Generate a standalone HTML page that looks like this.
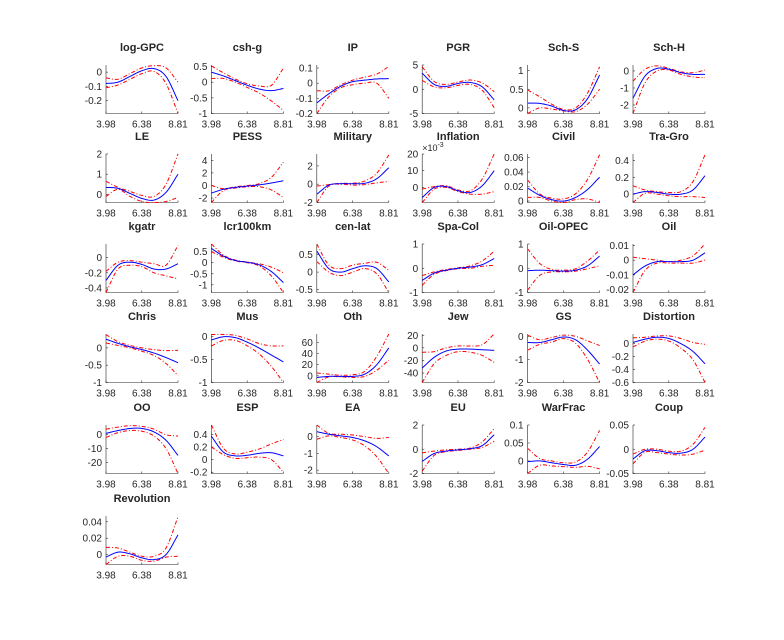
<!DOCTYPE html>
<html><head><meta charset="utf-8"><style>
html,body{margin:0;padding:0;background:#fff}
svg text{font-family:"Liberation Sans",Arial,sans-serif;fill:#262626}
</style></head><body>
<svg id="s" xmlns="http://www.w3.org/2000/svg" width="784" height="635" viewBox="0 0 784 635"></svg>
<script>
var P=[
["log-GPC",[-0.29,0.05],[0,-0.1,-0.2],[-0.08,-0.07,-0.03,0.01,0.025,-0.03,-0.2],[-0.04,-0.05,-0.01,0.03,0.045,0.03,-0.07],[-0.11,-0.09,-0.05,-0.01,0.005,-0.08,-0.29]],
["csh-g",[-1,0.55],[0.5,0,-0.5,-1],[0.32,0.2,0.05,-0.1,-0.22,-0.27,-0.2],[0.52,0.3,0.1,-0.05,-0.12,-0.1,0.45],[0.12,0.12,0.0,-0.17,-0.35,-0.6,-0.9]],
["IP",[-0.2,0.12],[0.1,0,-0.1,-0.2],[-0.13,-0.07,-0.02,0.01,0.02,0.028,0.03],[-0.05,-0.05,-0.01,0.02,0.04,0.06,0.11],[-0.2,-0.09,-0.03,-0.01,0.0,0.0,-0.1]],
["PGR",[-5,5],[5,0,-5],[3.3,1.0,0.6,1.2,1.4,0.5,-2.2],[4.6,1.6,1.0,1.5,1.9,1.3,-0.5],[1.8,0.5,0.3,0.8,1.0,-0.2,-3.8]],
["Sch-S",[-0.15,1.15],[1,0.5,0],[0.13,0.12,0.05,-0.07,-0.05,0.25,0.88],[0.48,0.3,0.1,-0.04,0.0,0.4,1.1],[-0.15,0.0,-0.03,-0.08,-0.1,0.1,0.5]],
["Sch-H",[-2.5,0.35],[0,-1,-2],[-1.6,-0.3,0.15,0.1,-0.1,-0.2,-0.2],[-0.6,0.1,0.3,0.15,-0.05,-0.1,0.05],[-2.5,-0.7,0.0,0.05,-0.2,-0.35,-0.4]],
["LE",[-0.4,2],[2,1,0],[0.35,0.3,0.05,-0.2,-0.28,0.1,1.0],[0.65,0.35,0.15,-0.05,-0.1,0.5,2.0],[-0.1,0.25,-0.1,-0.35,-0.4,-0.35,-0.15]],
["PESS",[-2.7,5],[4,2,0,-2],[-1.2,-0.6,-0.3,-0.1,0.1,0.4,0.75],[0.0,-0.5,-0.2,0.0,0.3,1.3,3.7],[-2.7,-0.8,-0.4,-0.2,-0.2,-0.7,-1.9]],
["Military",[-2,3.3],[2,0,-2],[-1.1,-0.1,0.05,0.05,0.1,0.6,1.8],[-0.2,-0.05,0.1,0.1,0.35,1.2,3.2],[-2.0,-0.2,0.0,-0.1,-0.05,0.15,0.3]],
["Inflation",[-9,20],[20,10,0],[-6,0,0.5,-2,-3,1,10],[-1,0.5,1,-1.5,-2,5,20],[-9,-1,0,-2.5,-4,-4,-2.5],1],
["Civil",[-0.002,0.065],[0.06,0.04,0.02,0],[0.018,0.008,0.002,0.0,0.005,0.016,0.033],[0.029,0.01,0.004,0.003,0.01,0.03,0.064],[0.005,0.005,0.0,-0.002,0.002,0.003,-0.002]],
["Tra-Gro",[-0.1,0.48],[0.4,0.2,0],[0.0,0.03,0.02,0.0,0.0,0.05,0.22],[0.1,0.05,0.03,0.02,0.03,0.15,0.47],[-0.1,0.01,0.0,-0.02,-0.03,-0.03,-0.04]],
["kgatr",[-0.46,0.18],[0,-0.2,-0.4],[-0.3,-0.1,-0.06,-0.09,-0.15,-0.15,-0.08],[-0.18,-0.06,-0.04,-0.06,-0.08,-0.1,0.16],[-0.46,-0.15,-0.1,-0.12,-0.2,-0.24,-0.28]],
["lcr100km",[-1.35,0.85],[0.5,0,-0.5,-1],[0.65,0.3,0.1,0.02,-0.1,-0.4,-0.9],[0.85,0.35,0.12,0.03,-0.05,-0.2,-0.45],[0.5,0.25,0.08,0.0,-0.15,-0.6,-1.35]],
["cen-lat",[-0.58,0.8],[0.5,0,-0.5],[0.6,0.1,0.0,0.1,0.18,0.1,-0.28],[0.8,0.2,0.1,0.2,0.25,0.28,0.05],[0.3,0.0,-0.1,0.0,0.1,-0.05,-0.58]],
["Spa-Col",[-1,1],[1,0,-1],[-0.5,-0.2,-0.08,0.0,0.05,0.15,0.4],[-0.3,-0.15,-0.05,0.02,0.1,0.3,0.7],[-0.7,-0.25,-0.1,-0.02,0.0,0.08,0.12]],
["Oil-OPEC",[-1,1],[1,0,-1],[-0.1,-0.08,-0.1,-0.12,-0.08,0.1,0.5],[0.8,0.2,-0.05,-0.08,-0.02,0.3,0.75],[-0.9,-0.3,-0.15,-0.15,-0.12,-0.02,0.1]],
["Oil",[-0.022,0.011],[0.01,0,-0.01,-0.02],[-0.01,-0.004,-0.001,-0.001,-0.001,0.0,0.005],[0.002,0.001,0.0,-0.001,0.0,0.003,0.011],[-0.022,-0.007,-0.002,-0.002,-0.002,-0.002,0.0]],
["Chris",[-1,0.4],[0,-0.5,-1],[0.25,0.13,0.03,-0.05,-0.15,-0.28,-0.43],[0.38,0.18,0.07,0.0,-0.05,-0.08,-0.07],[0.14,0.07,0.0,-0.1,-0.22,-0.45,-0.8]],
["Mus",[-1,0.06],[0,-0.5,-1],[-0.07,0.0,-0.02,-0.12,-0.25,-0.4,-0.55],[0.05,0.05,0.03,-0.05,-0.15,-0.2,-0.2],[-0.2,-0.08,-0.08,-0.2,-0.38,-0.65,-1.0]],
["Oth",[-12,75],[60,40,20,0],[-3,-1,-1,-1,3,20,50],[5,3,1,2,8,35,75],[-12,-2,-2,-3,-1,10,28]],
["Jew",[-55,22],[20,0,-20,-40],[-32,-15,-5,-2,-2,-3,-4],[-7,-6,0,3,3,5,22],[-55,-25,-12,-6,-7,-12,-23]],
["GS",[-2,0.1],[0,-1,-2],[-0.27,-0.27,-0.15,-0.03,-0.15,-0.6,-1.2],[0.05,-0.15,-0.05,0.05,0.0,-0.2,-0.4],[-0.6,-0.35,-0.25,-0.1,-0.3,-1.0,-2.0]],
["Distortion",[-0.6,0.15],[0,-0.2,-0.4,-0.6],[0.02,0.07,0.1,0.08,0.0,-0.12,-0.31],[0.09,0.1,0.12,0.12,0.08,0.02,-0.01],[-0.05,0.04,0.07,0.04,-0.07,-0.25,-0.6]],
["OO",[-28,7],[0,-10,-20],[1,3,4.5,4.5,2,-4,-15],[4,5.5,6.5,6,4,0,-1],[-2,1.5,3,2.5,-1,-10,-28]],
["ESP",[-0.22,0.55],[0.4,0.2,0,-0.2],[0.37,0.12,0.06,0.07,0.1,0.11,0.06],[0.55,0.18,0.09,0.12,0.17,0.25,0.32],[0.2,0.08,0.02,0.03,0.04,0.0,-0.2]],
["EA",[-2.2,0.7],[0,-1,-2],[0.3,0.15,0.05,-0.05,-0.25,-0.6,-1.15],[0.7,0.2,0.15,0.1,0.0,-0.1,-0.05],[-0.15,0.05,-0.05,-0.2,-0.55,-1.2,-2.2]],
["EU",[-2,2],[2,0,-2],[-1.0,-0.35,-0.15,-0.05,0.05,0.3,1.2],[-0.3,-0.15,-0.05,0.0,0.1,0.6,1.7],[-1.8,-0.5,-0.2,-0.1,0.0,0.15,0.65]],
["WarFrac",[-0.035,0.1],[0.1,0.05,0],[-0.002,0.0,-0.005,-0.01,-0.012,0.005,0.04],[0.035,0.007,0.0,-0.005,-0.003,0.025,0.085],[-0.035,-0.012,-0.014,-0.016,-0.018,-0.015,-0.022]],
["Coup",[-0.05,0.05],[0.05,0,-0.05],[-0.02,-0.003,-0.003,-0.007,-0.008,0.0,0.025],[-0.01,0.0,0.0,-0.004,-0.004,0.01,0.045],[-0.03,-0.006,-0.007,-0.01,-0.012,-0.01,-0.002]],
["Revolution",[-0.012,0.047],[0.04,0.02,0],[-0.003,0.003,0.001,-0.004,-0.006,0.0,0.024],[0.009,0.008,0.003,-0.002,-0.002,0.008,0.046],[-0.012,-0.002,-0.002,-0.007,-0.008,-0.003,-0.002]]
];
var tops=[65,154,244,334,425,516],W=72,H=48.5,s="";
function cr(v,t){var n=v.length-1,f=t*n,i=Math.min(Math.floor(f),n-1),u=f-i;
var p0=v[Math.max(i-1,0)],p1=v[i],p2=v[i+1],p3=v[Math.min(i+2,n)];
if(i==0)p0=2*p1-p2; if(i+1==n)p3=2*p2-p1;
return 0.5*((2*p1)+(-p0+p2)*u+(2*p0-5*p1+4*p2-p3)*u*u+(-p0+3*p1-3*p2+p3)*u*u*u);}
P.forEach(function(p,k){
 var c=k%6,r=Math.floor(k/6),x0=106+105.4*c,y0=tops[r],lo=p[1][0],hi=p[1][1];
 function Y(v){return y0+H-(v-lo)/(hi-lo)*H;}
 s+='<text x="'+(x0+W/2)+'" y="'+(y0-14)+'" font-size="11" font-weight="bold" text-anchor="middle">'+p[0]+'</text>';
 s+='<path d="M'+x0+' '+y0+'V'+(y0+H)+'H'+(x0+W)+'" fill="none" stroke="#262626" stroke-width="0.6"/>';
 [0,0.497,1].forEach(function(t,j){var xx=x0+t*W;
  s+='<line x1="'+xx+'" y1="'+(y0+H)+'" x2="'+xx+'" y2="'+(y0+H-2)+'" stroke="#262626" stroke-width="0.6"/>';
  s+='<text x="'+xx+'" y="'+(y0+H+14)+'" font-size="10" text-anchor="middle">'+["3.98","6.38","8.81"][j]+'</text>';});
 p[2].forEach(function(v){var yy=Y(v);
  s+='<line x1="'+x0+'" y1="'+yy+'" x2="'+(x0+2)+'" y2="'+yy+'" stroke="#262626" stroke-width="0.6"/>';
  s+='<text x="'+(x0-4)+'" y="'+(yy+3.5)+'" font-size="10" text-anchor="end">'+v+'</text>';});
 if(p[6]) s+='<text x="'+(x0)+'" y="'+(y0-3)+'" font-size="9">×10<tspan dy="-4" font-size="7">-3</tspan></text>';
 [[p[4],"#ff0000","4,2,1,2"],[p[5],"#ff0000","4,2,1,2"],[p[3],"#0000ff",""]].forEach(function(q){
  var d="";for(var i=0;i<=48;i++){var t=i/48;var v=Math.max(lo,Math.min(hi,cr(q[0],t)));d+=(i?"L":"M")+(x0+t*W).toFixed(2)+" "+Y(v).toFixed(2);}
  s+='<path d="'+d+'" fill="none" stroke="'+q[1]+'" stroke-width="1"'+(q[2]?' stroke-dasharray="'+q[2]+'"':'')+'/>';});
});
document.getElementById("s").innerHTML=s;
</script>
</body></html>
